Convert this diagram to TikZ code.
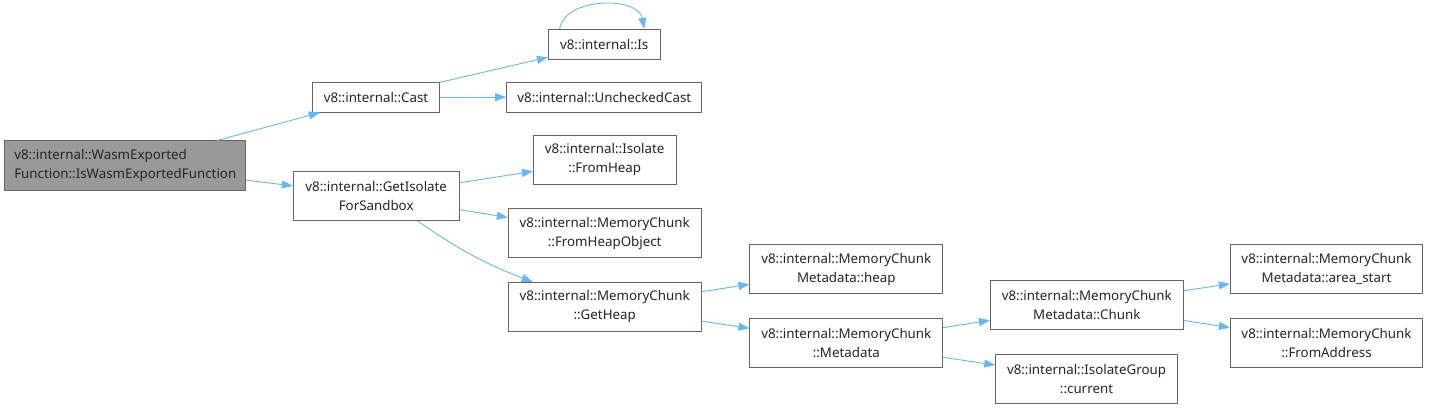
\documentclass[tikz,border=0pt]{standalone}
\usepackage{fontspec}
\setmainfont{Noto Sans}
\usepackage{xcolor}
\usetikzlibrary{arrows.meta, positioning}
\definecolor{edgeblue}{HTML}{63B8FF}
\definecolor{boxgray}{HTML}{666666}
\definecolor{curgray}{HTML}{999999}
\tikzstyle{arrow} = [draw=edgeblue, line width=0.9pt, -{Triangle[length=11pt, width=8pt]}]

\begin{document}
\begin{tikzpicture}[x=1pt, y=-1pt, font=\fontsize{13.33}{19}\selectfont]
    \tikzstyle{fn} = [rectangle, draw=boxgray, line width=1pt, fill=white, inner sep=0pt, align=center, minimum height=48.7pt, text=black!85]
    \tikzstyle{fnone} = [fn, minimum height=29.7pt]
    \tikzstyle{cur} = [fn, fill=curgray, minimum height=49pt, align=left]
    \useasboundingbox (0,0) rectangle (1429,409);

    \node[cur, minimum width=240.7pt] (wasm) at (125.3,165.5) {v8::internal::WasmExported\\Function::IsWasmExportedFunction};
    \node[fnone, minimum width=126.6pt] (cast) at (376,97.2) {v8::internal::Cast};
    \node[fnone, minimum width=111.7pt] (is) at (604.2,44.2) {v8::internal::Is};
    \node[fnone, minimum width=195.3pt] (unchecked) at (604.3,97.2) {v8::internal::UncheckedCast};
    \node[fn, minimum width=165.7pt] (getisolate) at (376.2,196) {v8::internal::GetIsolate\\ForSandbox};
    \node[fn, minimum width=142.7pt] (fromheap) at (604.7,160) {v8::internal::Isolate\\::FromHeap};
    \node[fn, minimum width=192.7pt] (fromheapobj) at (604.7,233.3) {v8::internal::MemoryChunk\\::FromHeapObject};
    \node[fn, minimum width=192.7pt] (getheap) at (604.7,306.7) {v8::internal::MemoryChunk\\::GetHeap};
    \node[fn, minimum width=192.7pt] (mdheap) at (846.3,269.3) {v8::internal::MemoryChunk\\Metadata::heap};
    \node[fn, minimum width=192.7pt] (metadata) at (846.3,342.7) {v8::internal::MemoryChunk\\::Metadata};
    \node[fn, minimum width=193pt] (mdchunk) at (1086.8,305.3) {v8::internal::MemoryChunk\\Metadata::Chunk};
    \node[fn, minimum width=181.6pt, minimum height=49pt] (current) at (1086.5,378.8) {v8::internal::IsolateGroup\\::current};
    \node[fn, minimum width=192.4pt] (areastart) at (1326.5,269.3) {v8::internal::MemoryChunk\\Metadata::area\_start};
    \node[fn, minimum width=192.4pt] (fromaddr) at (1326.5,342.7) {v8::internal::MemoryChunk\\::FromAddress};

    \draw[arrow] (wasm) -- (cast);
    \draw[arrow] (wasm) -- (getisolate);
    \draw[arrow] (cast) -- (is);
    \draw[arrow] (cast) -- (unchecked);
    \draw[arrow] (is.161) to[out=80, in=100] (is.21);
    \draw[arrow] (getisolate) -- (fromheap);
    \draw[arrow] (getisolate) -- (fromheapobj);
    \draw[arrow] (getisolate.-31) to[bend right=7] (getheap.161);
    \draw[arrow] (getheap) -- (mdheap);
    \draw[arrow] (getheap) -- (metadata);
    \draw[arrow] (metadata) -- (mdchunk);
    \draw[arrow] (metadata) -- (current);
    \draw[arrow] (mdchunk) -- (areastart);
    \draw[arrow] (mdchunk) -- (fromaddr);
\end{tikzpicture}
\end{document}
